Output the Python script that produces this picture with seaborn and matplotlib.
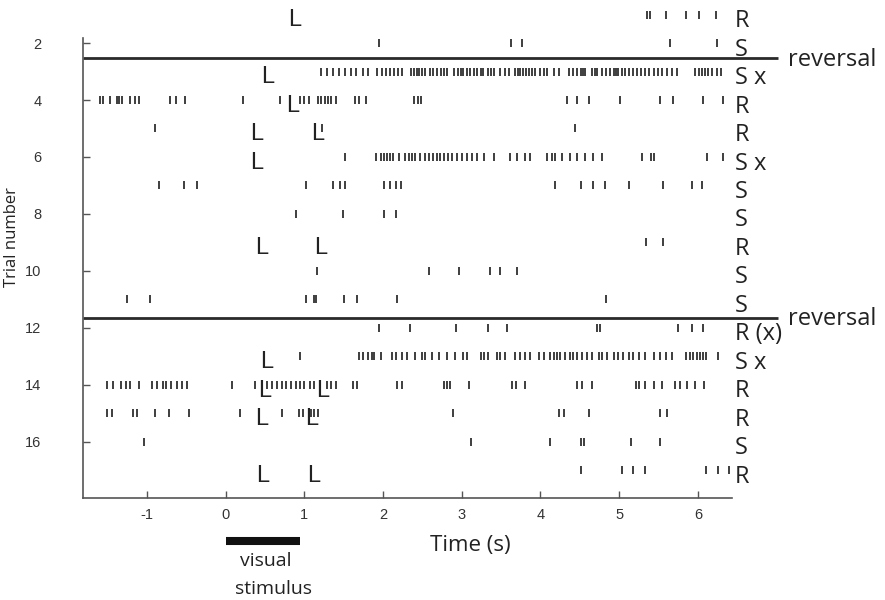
import numpy as np
import pandas as pd
import matplotlib
matplotlib.use("Agg")
import matplotlib.pyplot as plt
import matplotlib.transforms as mtransforms
import seaborn as sns

# ---------------- data ----------------
trial_01 = [5.35, 5.39, 5.59, 5.85, 6.01, 6.23]
trial_02 = [1.95, 3.63, 3.77, 5.64, 6.24]
trial_03 = [1.21, 1.29, 1.36, 1.44, 1.52, 1.60, 1.66, 1.75, 1.81, 1.92, 1.99, 2.04, 2.09,
            2.14, 2.19, 2.24, 2.36, 2.40, 2.43, 2.46, 2.49, 2.53, 2.60, 2.64, 2.69, 2.74,
            2.77, 2.81, 2.90, 2.95, 2.99, 3.02, 3.07, 3.11, 3.16, 3.19, 3.24, 3.27, 3.33,
            3.37, 3.41, 3.49, 3.55, 3.60, 3.68, 3.71, 3.74, 3.78, 3.82, 3.86, 3.89, 3.93,
            3.99, 4.05, 4.08, 4.17, 4.24, 4.36, 4.42, 4.47, 4.51, 4.54, 4.57, 4.65, 4.69,
            4.72, 4.78, 4.83, 4.89, 4.93, 4.96, 4.99, 5.03, 5.08, 5.12, 5.18, 5.23, 5.28,
            5.33, 5.38, 5.44, 5.49, 5.54, 5.61, 5.67, 5.73, 5.96, 6.01, 6.05, 6.09, 6.13,
            6.18, 6.24, 6.30]
trial_04 = [-1.60, -1.55, -1.47, -1.38, -1.35, -1.32, -1.21, -1.15, -1.10, -0.70, -0.63,
            -0.52, 0.22, 0.69, 0.95, 1.00, 1.06, 1.17, 1.21, 1.26, 1.30, 1.34, 1.40, 1.64,
            1.70, 1.78, 2.40, 2.44, 2.48, 4.34, 4.46, 4.62, 5.01, 5.52, 5.69, 6.07, 6.32]
trial_05 = [-0.90, 1.23, 4.44]
trial_06 = [1.52, 1.91, 1.97, 2.01, 2.05, 2.09, 2.13, 2.20, 2.28, 2.33, 2.37, 2.41, 2.47,
            2.53, 2.58, 2.63, 2.69, 2.73, 2.77, 2.82, 2.88, 2.94, 3.00, 3.07, 3.13, 3.19,
            3.28, 3.41, 3.62, 3.70, 3.81, 3.87, 4.08, 4.15, 4.19, 4.27, 4.38, 4.46, 4.57,
            4.67, 4.78, 5.29, 5.41, 5.44, 6.11, 6.32]
trial_07 = [-0.85, -0.53, -0.36, 1.02, 1.37, 1.45, 1.52, 2.01, 2.09, 2.16, 2.23, 4.19,
            4.51, 4.67, 4.82, 5.13, 5.56, 5.92, 6.05]
trial_08 = [0.90, 1.49, 2.01, 2.16]
trial_09 = [5.34, 5.56]
trial_10 = [1.16, 2.58, 2.97, 3.36, 3.49, 3.70]
trial_11 = [-1.25, -0.96, 1.02, 1.12, 1.15, 1.50, 1.67, 2.18, 4.83]
trial_12 = [1.95, 2.34, 2.93, 3.33, 3.58, 4.72, 4.76, 5.75, 5.92, 6.07]
trial_13 = [0.94, 1.69, 1.75, 1.81, 1.86, 1.89, 1.97, 2.11, 2.17, 2.24, 2.30, 2.41, 2.50,
            2.54, 2.62, 2.71, 2.81, 2.92, 3.02, 3.07, 3.24, 3.28, 3.34, 3.45, 3.49, 3.55,
            3.68, 3.74, 3.81, 3.87, 3.98, 4.04, 4.12, 4.17, 4.21, 4.25, 4.31, 4.38, 4.42,
            4.46, 4.53, 4.59, 4.65, 4.75, 4.78, 4.84, 4.93, 4.99, 5.05, 5.12, 5.18, 5.25,
            5.33, 5.44, 5.52, 5.59, 5.67, 5.85, 5.90, 5.94, 5.99, 6.03, 6.07, 6.10, 6.26]
trial_14 = [-1.51, -1.43, -1.33, -1.27, -1.21, -1.10, -0.93, -0.87, -0.80, -0.75, -0.69,
            -0.61, -0.55, -0.49, 0.08, 0.38, 0.53, 0.59, 0.66, 0.72, 0.77, 0.83, 0.89,
            0.95, 1.00, 1.07, 1.12, 1.29, 1.34, 1.40, 1.62, 1.67, 2.18, 2.24, 2.77, 2.81,
            2.85, 3.09, 3.64, 3.69, 3.81, 4.46, 4.53, 4.65, 5.22, 5.25, 5.33, 5.44, 5.54,
            5.71, 5.77, 5.86, 5.96, 6.08]
trial_15 = [-1.51, -1.44, -1.18, -1.12, -0.89, -0.72, -0.47, 0.18, 0.72, 0.93, 0.99, 1.08,
            1.12, 1.17, 2.89, 4.24, 4.30, 4.62, 5.52, 5.61]
trial_16 = [-1.04, 3.12, 4.12, 4.51, 4.55, 5.15, 5.52]
trial_17 = [4.52, 5.03, 5.17, 5.33, 6.10, 6.26, 6.40]

outcome_labels = ["R", "S", "S x", "R", "R", "S x", "S", "S", "R", "S", "S",
                  "R (x)", "S x", "R", "R", "S", "R"]

lick_trials = [1, 3, 4, 5, 5, 6, 9, 9, 13, 14, 14, 15, 15, 17, 17]
lick_times = [0.83, 0.48, 0.80, 0.34, 1.12, 0.34, 0.40, 1.16, 0.47, 0.44, 1.18, 0.40,
              1.04, 0.42, 1.07]

reversal_positions = [2.54, 11.65]
reversal_label = "reversal"

stimulus_on, stimulus_off = 0.0, 0.95
x_ticks = [-1, 0, 1, 2, 3, 4, 5, 6]
y_ticks = [2, 4, 6, 8, 10, 12, 14, 16]

# ---------------- build table ----------------
all_trials = [trial_01, trial_02, trial_03, trial_04, trial_05, trial_06, trial_07,
              trial_08, trial_09, trial_10, trial_11, trial_12, trial_13, trial_14,
              trial_15, trial_16, trial_17]
rows = []
for i, times in enumerate(all_trials, start=1):
    for t in times:
        rows.append({"time": t, "trial": i})
df = pd.DataFrame(rows)

# ---------------- figure ----------------
sns.set_style("ticks")
plt.rcParams["font.family"] = ["Liberation Sans", "DejaVu Sans"]

fig = plt.figure(figsize=(8.85, 6.0), dpi=100)
ax = fig.add_axes([0.0938, 0.1695, 0.7330, 0.8305])

ink = "#1e1e1e"
sns.scatterplot(data=df, x="time", y="trial", marker="|", s=36, linewidth=1.2,
                color=ink, edgecolor=ink, ax=ax, legend=False)

ax.set_xlim(-1.81, 6.43)
ax.set_ylim(17.98, 0.49)

ax.set_xticks(x_ticks)
ax.set_xticklabels([str(v) for v in x_ticks])
ax.set_yticks(y_ticks)
ax.set_yticklabels([str(v) for v in y_ticks])
ax.tick_params(axis="both", direction="in", length=5, width=1.0, color="#555555",
               labelsize=10.5, labelcolor="#333333")
ax.tick_params(axis="y", pad=30)
ax.tick_params(axis="x", pad=7)
ax.set_xlabel("")
ax.set_ylabel("")

for side in ["top", "right"]:
    ax.spines[side].set_visible(False)
for side in ["left", "bottom"]:
    ax.spines[side].set_color("#555555")
    ax.spines[side].set_linewidth(1.2)
ax.spines["left"].set_bounds(17.98, 1.82)

# reversal lines
for yr in reversal_positions:
    ax.plot([-1.81, 7.02], [yr, yr], color="#2a2a2a", lw=2.0, clip_on=False,
            solid_capstyle="butt")
    ax.text(7.14, yr + 0.25, reversal_label, fontsize=17, family="Open Sans",
            color="#222222", ha="left", va="baseline", clip_on=False)

# outcome labels
for i, lab in enumerate(outcome_labels, start=1):
    ax.text(6.47, i + 0.44, lab, fontsize=17, family="Open Sans", color="#222222",
            ha="left", va="baseline", clip_on=False)

# lick markers
for tr, tm in zip(lick_trials, lick_times):
    ax.text(tm - 0.03, tr + 0.42, "L", fontsize=17, family="Liberation Sans",
            color="#222222", ha="left", va="baseline", clip_on=False)

# visual stimulus bar
trans = mtransforms.blended_transform_factory(ax.transData, fig.transFigure)
ax.plot([stimulus_on, stimulus_off], [0.0988, 0.0988], transform=trans, color="#111111",
        lw=5.8, solid_capstyle="butt", clip_on=False)
fig.text(266 / 885, 1 - 561 / 600, "visual", fontsize=14, family="Open Sans",
         ha="center", va="center", color="#222222")
fig.text(273 / 885, 1 - 589 / 600, "stimulus", fontsize=14, family="Open Sans",
         ha="center", va="center", color="#222222")

fig.text(470 / 885, 1 - 546 / 600, "Time (s)", fontsize=16, family="Open Sans",
         ha="center", va="center", color="#222222")
fig.text(12 / 885, 1 - 237 / 600, "Trial number", fontsize=12, family="Open Sans",
         ha="center", va="center", rotation=90, color="#222222")

fig.savefig("out.png", dpi=100)
